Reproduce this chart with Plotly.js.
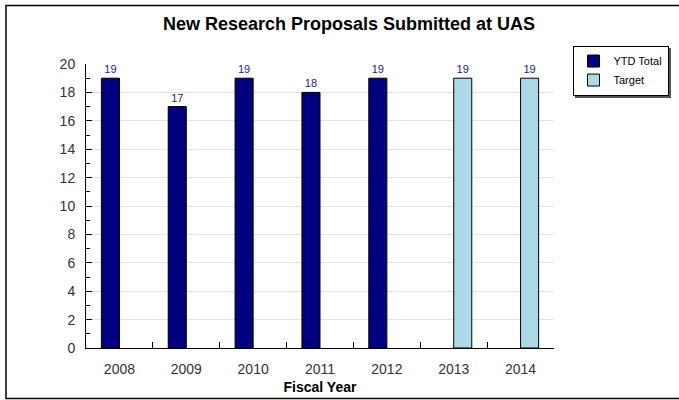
<!DOCTYPE html>
<html>
<head>
<meta charset="utf-8">
<script src="https://cdn.plot.ly/plotly-3.0.1.min.js"></script>
<style>
html,body{margin:0;padding:0;background:#fff;}
#chart{width:679px;height:400px;}
.legend .bg{filter:drop-shadow(2px 2px 0 #555555);}
</style>
</head>
<body>
<div id="chart"></div>
<script>
const years = ['2008','2009','2010','2011','2012','2013','2014'];
const ytdTotal = [19,17,19,18,19,null,null];
const target = [null,null,null,null,null,19,19];
const yTickVals = [0,2,4,6,8,10,12,14,16,18,20];

const L = 86, R = 125, T = 63.5, B = 52;
const W = 679, H = 400;
const pw = W - L - R, ph = H - T - B;
function px2x(p){ return (p - L) / pw; }
function py2y(p){ return (H - B - p) / ph; }

const FONT = 'Liberation Sans, Arial, sans-serif';
const labelFont = {family:FONT, size:11, color:'#22228f'};

const traces = [
  {
    type:'bar', name:'YTD Total', x:years, y:ytdTotal,
    marker:{color:'#000080', line:{color:'#000000', width:1}},
    text: ytdTotal.map(v => v == null ? '' : String(v)),
    textposition:'outside', textfont:labelFont, cliponaxis:false,
    hoverinfo:'x+y'
  },
  {
    type:'bar', name:'Target', x:years, y:target,
    marker:{color:'#add8e6', line:{color:'#000000', width:1}},
    text: target.map(v => v == null ? '' : String(v)),
    textposition:'outside', textfont:labelFont, cliponaxis:false,
    hoverinfo:'x+y'
  }
];

const layout = {
  width:W, height:H,
  margin:{l:L, r:R, t:T, b:B, pad:0, autoexpand:false},
  paper_bgcolor:'#ffffff', plot_bgcolor:'#ffffff',
  font:{family:FONT, size:14, color:'#333333'},
  title:{text:'New Research Proposals Submitted at UAS', xref:'container', x:0.514, xanchor:'center',
         yref:'container', y:1-24/400, yanchor:'middle',
         font:{family:FONT, size:18, color:'#000000', weight:'bold'}},
  barmode:'group', bargap:0.46, bargroupgap:0,
  showlegend:true,
  legend:{x:px2x(572.5), y:py2y(45), xanchor:'left', yanchor:'top',
          bgcolor:'#ffffff', bordercolor:'#000000', borderwidth:1,
          font:{family:FONT, size:11, color:'#000000'},
          itemwidth:30, tracegroupgap:0, traceorder:'normal', itemclick:false},
  xaxis:{type:'category', range:[-0.5,6.5], showgrid:false, zeroline:false,
         showline:true, linecolor:'#000000', linewidth:1,
         ticks:'inside', ticklen:6, tickcolor:'#000000', tickson:'boundaries',
         ticklabelstandoff:8,
         tickfont:{size:14, color:'#333333'},
         title:{text:'Fiscal Year', standoff:6, font:{size:14, color:'#000000', weight:'bold'}}},
  yaxis:{range:[0,20], tickvals:yTickVals, showgrid:true, gridcolor:'#e3e3e3', gridwidth:1,
         zeroline:false, showline:true, linecolor:'#000000', linewidth:1,
         ticks:'inside', ticklen:6, tickcolor:'#000000',
         ticklabelstandoff:7,
         tickfont:{size:14, color:'#333333'},
         minor:{dtick:1, ticks:'inside', ticklen:4, tickcolor:'#000000', showgrid:false}},
  shapes:[
    {type:'rect', xref:'paper', yref:'paper', x0:px2x(6), x1:px2x(690), y0:py2y(398.5), y1:py2y(5),
     line:{color:'#000000', width:1.5}, fillcolor:'rgba(0,0,0,0)', layer:'below'}
  ]
};

Plotly.newPlot('chart', traces, layout, {displayModeBar:false, staticPlot:true});
</script>
</body>
</html>
